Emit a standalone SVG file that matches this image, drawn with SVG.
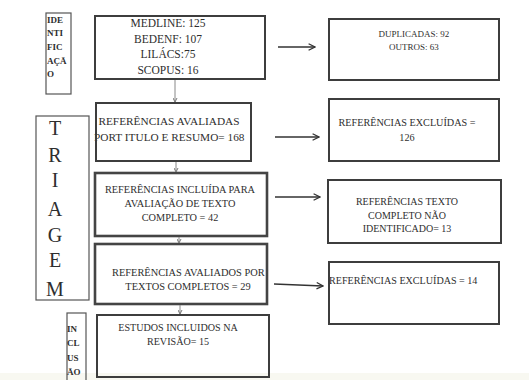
<svg xmlns="http://www.w3.org/2000/svg" width="529" height="380" viewBox="0 0 529 380">
<defs>
<marker id="chev" viewBox="0 0 10 10" refX="9" refY="5" markerWidth="8" markerHeight="8" markerUnits="userSpaceOnUse" orient="auto">
<path d="M1,1 L9,5 L1,9" fill="none" stroke="#333" stroke-width="1.6"/>
</marker>
<marker id="tiny" viewBox="0 0 10 10" refX="9" refY="5" markerWidth="5" markerHeight="5" markerUnits="userSpaceOnUse" orient="auto">
<path d="M1,1 L9,5 L1,9" fill="none" stroke="#777" stroke-width="2"/>
</marker>
</defs>
<style>
text{font-family:"Liberation Serif","Times New Roman",serif;fill:#2e2e2e}
.box{fill:none;stroke:#3d3d3d;stroke-width:2}
.thick{fill:none;stroke:#444;stroke-width:2.6}
.thin{fill:none;stroke:#555;stroke-width:1.2}
.c{text-anchor:middle}
.v{stroke:#888;stroke-width:1;fill:none;marker-end:url(#tiny)}
.h{stroke:#333;stroke-width:1.5;fill:none;marker-end:url(#chev)}
</style>
<rect width="529" height="380" fill="#ffffff"/>
<rect x="0" y="373" width="529" height="7" fill="#f8f8f1"/>

<g id="identificacao">
<rect class="thin" x="46" y="13" width="25" height="81"/>
<text x="47" y="23" font-size="9" font-weight="bold">IDE</text>
<text x="47" y="36" font-size="9" font-weight="bold">NTI</text>
<text x="47" y="50" font-size="9" font-weight="bold">FIC</text>
<text x="47" y="64" font-size="9" font-weight="bold">AÇÃ</text>
<text x="47" y="77" font-size="9" font-weight="bold">O</text>
</g>

<g id="triagem">
<rect class="thin" x="36" y="116" width="53" height="184"/>
<text class="c" x="55" y="135" font-size="20">T</text>
<text class="c" x="55" y="162" font-size="20">R</text>
<text class="c" x="55" y="187" font-size="20">I</text>
<text class="c" x="55" y="216" font-size="20">A</text>
<text class="c" x="55" y="242" font-size="20">G</text>
<text class="c" x="55" y="267" font-size="20">E</text>
<text class="c" x="55" y="296" font-size="20">M</text>
</g>

<g id="inclusao">
<rect class="thin" x="67" y="313" width="19" height="70"/>
<text x="67" y="332" font-size="9" font-weight="bold">IN</text>
<text x="67" y="346" font-size="9" font-weight="bold">CL</text>
<text x="67" y="361" font-size="9" font-weight="bold">US</text>
<text x="67" y="375" font-size="9" font-weight="bold">ÃO</text>
</g>

<g id="bases">
<rect class="box" x="95" y="16" width="170" height="63"/>
<text class="c" x="168" y="27" font-size="11.5">MEDLINE: 125</text>
<text class="c" x="168" y="43" font-size="11.5">BEDENF: 107</text>
<text class="c" x="168" y="58" font-size="11.5">LILÁCS:75</text>
<text class="c" x="168" y="74" font-size="11.5">SCOPUS: 16</text>
</g>

<g id="duplicadas">
<rect class="box" x="329" y="19" width="170" height="61"/>
<text class="c" x="414" y="37" font-size="9">DUPLICADAS: 92</text>
<text class="c" x="414" y="50" font-size="9">OUTROS: 63</text>
</g>

<g id="avaliadas">
<text class="c" x="169" y="125" font-size="11.3">REFERÊNCIAS AVALIADAS</text>
<text x="94" y="141" font-size="11.3">PORT ITULO E RESUMO= 168</text>
<rect class="box" x="96" y="103" width="155" height="58"/>
</g>

<g id="excluidas1">
<rect class="box" x="329" y="99" width="170" height="62"/>
<text class="c" x="407" y="126" font-size="10.2">REFERÊNCIAS EXCLUÍDAS =</text>
<text class="c" x="407" y="141" font-size="10.2">126</text>
</g>

<g id="incluida">
<rect class="thick" x="95" y="173" width="172" height="63"/>
<text class="c" x="180" y="193" font-size="10.3">REFERÊNCIAS INCLUÍDA PARA</text>
<text class="c" x="180" y="207" font-size="10.3">AVALIAÇÃO DE TEXTO</text>
<text class="c" x="180" y="221" font-size="10.3">COMPLETO =  42</text>
</g>

<g id="naoidentificado">
<rect class="box" x="328" y="180" width="173" height="63"/>
<text class="c" x="407" y="205" font-size="10">REFERÊNCIAS TEXTO</text>
<text class="c" x="407" y="219" font-size="10">COMPLETO NÃO</text>
<text class="c" x="407" y="232" font-size="10">IDENTIFICADO= 13</text>
</g>

<g id="avaliados">
<rect class="thick" x="95" y="244" width="172" height="60"/>
<text x="112" y="276" font-size="10.4">REFERÊNCIAS AVALIADOS POR</text>
<text class="c" x="188" y="290" font-size="10.4">TEXTOS COMPLETOS = 29</text>
</g>

<g id="excluidas2">
<text x="329" y="284" font-size="10.1">REFERÊNCIAS EXCLUÍDAS = 14</text>
<rect class="box" x="329" y="262" width="170" height="62"/>
</g>

<g id="estudos">
<rect class="box" x="97" y="315" width="172" height="62"/>
<text class="c" x="178" y="331" font-size="10.1">ESTUDOS INCLUIDOS NA</text>
<text class="c" x="178" y="345" font-size="10.1">REVISÃO= 15</text>
</g>

<g id="connectors">
<line class="v" x1="175" y1="80" x2="175" y2="102"/>
<line class="v" x1="176" y1="162" x2="176" y2="172"/>
<line class="v" x1="179" y1="237" x2="179" y2="243"/>
<line class="v" x1="180" y1="305" x2="180" y2="314"/>
<line class="h" x1="278" y1="47" x2="315" y2="47"/>
<line class="h" x1="275" y1="137" x2="319" y2="137"/>
<line class="h" x1="275" y1="197" x2="320" y2="197"/>
<line class="h" x1="274" y1="284" x2="323" y2="286"/>
</g>
</svg>
